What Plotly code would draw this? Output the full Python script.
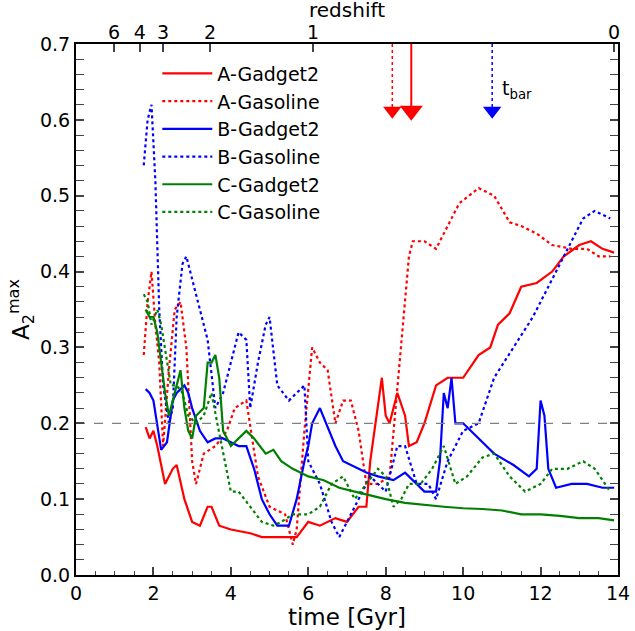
import plotly.graph_objects as go

# A-Gadget2
a_g2_t = [1.8, 1.9, 2.0, 2.1, 2.3, 2.5, 2.6, 2.8, 3.0, 3.2, 3.4, 3.5, 3.7, 4.0, 4.5, 4.8, 5.2, 5.5, 5.7, 6.0, 6.3, 6.7, 7.0, 7.3, 7.5, 7.6, 7.8, 7.9, 8.0, 8.1, 8.3, 8.5, 8.6, 8.8, 9.0, 9.3, 9.6, 10.0, 10.4, 10.7, 10.9, 11.2, 11.5, 11.9, 12.3, 12.6, 13.0, 13.3, 13.6, 13.9]
a_g2_v = [0.195, 0.18, 0.19, 0.17, 0.12, 0.14, 0.145, 0.10, 0.07, 0.065, 0.09, 0.09, 0.065, 0.06, 0.055, 0.05, 0.05, 0.05, 0.05, 0.07, 0.065, 0.075, 0.07, 0.09, 0.09, 0.15, 0.22, 0.26, 0.21, 0.20, 0.24, 0.21, 0.17, 0.175, 0.20, 0.25, 0.26, 0.26, 0.29, 0.30, 0.33, 0.345, 0.38, 0.385, 0.40, 0.42, 0.435, 0.44, 0.43, 0.425]
# A-Gasoline
a_gs_t = [1.75, 1.85, 1.95, 2.05, 2.15, 2.25, 2.4, 2.55, 2.7, 2.85, 3.0, 3.1, 3.3, 3.6, 3.9, 4.1, 4.4, 4.7, 5.0, 5.4, 5.6, 5.7, 5.9, 6.1, 6.3, 6.5, 6.7, 6.9, 7.1, 7.3, 7.5, 7.8, 8.1, 8.2, 8.4, 8.6, 8.7, 9.0, 9.3, 9.6, 9.9, 10.4, 10.8, 11.2, 11.5, 11.9, 12.3, 12.8, 13.2, 13.5, 13.8]
a_gs_v = [0.29, 0.36, 0.40, 0.33, 0.28, 0.17, 0.27, 0.35, 0.36, 0.30, 0.15, 0.12, 0.16, 0.17, 0.19, 0.22, 0.23, 0.13, 0.09, 0.08, 0.04, 0.06, 0.19, 0.30, 0.28, 0.27, 0.20, 0.23, 0.23, 0.19, 0.12, 0.12, 0.13, 0.19, 0.30, 0.42, 0.44, 0.44, 0.43, 0.46, 0.49, 0.51, 0.50, 0.465, 0.46, 0.45, 0.435, 0.43, 0.43, 0.42, 0.42]
# B-Gadget2
b_g2_t = [1.8, 1.9, 2.0, 2.2, 2.35, 2.5, 2.6, 2.8, 2.9, 3.0, 3.2, 3.4, 3.6, 3.8, 4.0, 4.2, 4.4, 4.6, 4.8, 5.0, 5.2, 5.5, 5.7, 5.9, 6.0, 6.1, 6.3, 6.5, 6.7, 6.9, 7.1, 7.5, 7.8, 8.2, 8.5, 8.8, 9.0, 9.3, 9.4, 9.5, 9.6, 9.7, 9.8, 10.0, 10.4, 10.8, 11.3, 11.7, 11.9, 12.0, 12.1, 12.2, 12.4, 12.8, 13.2, 13.6, 13.9]
b_g2_v = [0.245, 0.24, 0.23, 0.165, 0.175, 0.23, 0.24, 0.25, 0.24, 0.22, 0.19, 0.175, 0.18, 0.18, 0.175, 0.17, 0.17, 0.14, 0.10, 0.08, 0.065, 0.065, 0.10, 0.15, 0.17, 0.20, 0.22, 0.195, 0.17, 0.15, 0.145, 0.135, 0.13, 0.125, 0.135, 0.12, 0.11, 0.11, 0.15, 0.24, 0.22, 0.26, 0.20, 0.20, 0.18, 0.16, 0.145, 0.13, 0.14, 0.23, 0.21, 0.14, 0.115, 0.12, 0.12, 0.115, 0.115]
# B-Gasoline
b_gs_t = [1.75, 1.85, 1.95, 2.05, 2.15, 2.25, 2.4, 2.5, 2.6, 2.75, 2.85, 3.0, 3.2, 3.4, 3.6, 3.8, 4.0, 4.2, 4.4, 4.5, 4.7, 4.9, 5.0, 5.2, 5.5, 5.7, 5.9, 6.0, 6.3, 6.6, 6.8, 7.0, 7.3, 7.6, 8.0, 8.3, 8.5, 8.8, 9.1, 9.3, 9.6, 9.8, 10.0, 10.4, 10.8, 11.3, 11.8, 12.3, 12.7, 13.1, 13.4, 13.8]
b_gs_v = [0.54, 0.60, 0.62, 0.52, 0.35, 0.25, 0.20, 0.22, 0.34, 0.41, 0.42, 0.39, 0.35, 0.31, 0.22, 0.24, 0.28, 0.32, 0.31, 0.22, 0.28, 0.33, 0.34, 0.25, 0.23, 0.24, 0.25, 0.15, 0.12, 0.07, 0.05, 0.07, 0.10, 0.13, 0.11, 0.17, 0.17, 0.12, 0.12, 0.10, 0.15, 0.17, 0.19, 0.20, 0.26, 0.30, 0.34, 0.39, 0.43, 0.47, 0.48, 0.47]
# C-Gadget2
c_g2_t = [1.8, 1.9, 2.0, 2.1, 2.3, 2.4, 2.6, 2.7, 2.8, 2.9, 3.0, 3.1, 3.3, 3.4, 3.5, 3.6, 3.7, 3.8, 4.0, 4.2, 4.4, 4.6, 4.9, 5.1, 5.3, 5.6, 6.0, 6.4, 6.8, 7.2, 7.6, 8.0, 8.5, 9.0, 9.5, 10.0, 10.5, 11.0, 11.5, 12.0, 12.5, 13.0, 13.5, 13.9]
c_g2_v = [0.35, 0.34, 0.34, 0.32, 0.24, 0.21, 0.25, 0.27, 0.22, 0.19, 0.18, 0.21, 0.22, 0.28, 0.28, 0.29, 0.26, 0.19, 0.17, 0.18, 0.19, 0.18, 0.16, 0.165, 0.15, 0.14, 0.13, 0.125, 0.115, 0.11, 0.105, 0.10, 0.095, 0.092, 0.09, 0.088, 0.087, 0.085, 0.08, 0.08, 0.078, 0.075, 0.075, 0.072]
# C-Gasoline
c_gs_t = [1.75, 1.85, 1.95, 2.1, 2.2, 2.3, 2.45, 2.6, 2.75, 2.9, 3.1, 3.3, 3.5, 3.65, 3.8, 4.0, 4.2, 4.5, 4.8, 5.1, 5.3, 5.6, 6.0, 6.3, 6.6, 6.9, 7.2, 7.5, 7.8, 8.0, 8.2, 8.4, 8.6, 8.9, 9.2, 9.5, 9.8, 10.1, 10.5, 10.8, 11.2, 11.6, 12.0, 12.3, 12.7, 13.1, 13.4, 13.8]
c_gs_v = [0.37, 0.36, 0.33, 0.35, 0.33, 0.30, 0.25, 0.25, 0.24, 0.21, 0.20, 0.21, 0.24, 0.20, 0.16, 0.11, 0.11, 0.09, 0.07, 0.065, 0.07, 0.08, 0.08, 0.09, 0.12, 0.13, 0.10, 0.12, 0.14, 0.13, 0.09, 0.10, 0.12, 0.12, 0.14, 0.17, 0.12, 0.13, 0.155, 0.16, 0.13, 0.11, 0.12, 0.14, 0.14, 0.15, 0.14, 0.11]

# bar formation times (arrows)
t_bar = [8.17, 8.66, 10.75]
t_bar_colors = ["red", "red", "blue"]
t_bar_dash = ["dot", "solid", "dot"]

# top axis: redshift labels at cosmic time positions
z_labels = ["6", "4", "3", "2", "1", "0"]
z_times = [0.98, 1.65, 2.25, 3.46, 6.12, 13.9]

fig = go.Figure()

series = [
    ("A-Gadget2", a_g2_t, a_g2_v, "red", "solid"),
    ("A-Gasoline", a_gs_t, a_gs_v, "red", "dot"),
    ("B-Gadget2", b_g2_t, b_g2_v, "blue", "solid"),
    ("B-Gasoline", b_gs_t, b_gs_v, "blue", "dot"),
    ("C-Gadget2", c_g2_t, c_g2_v, "green", "solid"),
    ("C-Gasoline", c_gs_t, c_gs_v, "green", "dot"),
]
for name, t, v, c, d in series:
    fig.add_trace(go.Scatter(x=t, y=v, name=name, mode="lines",
                             line=dict(color=c, dash=d, width=2.2)))

# dashed reference line at 0.2
fig.add_trace(go.Scatter(x=[0, 14], y=[0.2, 0.2], mode="lines", showlegend=False,
                         line=dict(color="gray", dash="dash", width=1.2)))

for t, c, d in zip(t_bar, t_bar_colors, t_bar_dash):
    fig.add_trace(go.Scatter(x=[t, t], y=[0.7, 0.615], mode="lines", showlegend=False,
                             line=dict(color=c, dash=d, width=2 if d == "solid" else 1.5)))
    fig.add_trace(go.Scatter(x=[t], y=[0.612], mode="markers", showlegend=False,
                             marker=dict(symbol="triangle-down", color=c,
                                         size=20 if d == "solid" else 16)))

fig.add_trace(go.Scatter(x=z_times, y=[0.5] * len(z_times), xaxis="x2", mode="markers",
                         marker=dict(opacity=0), showlegend=False, hoverinfo="skip"))

fig.add_annotation(x=10.95, y=0.64, text="t<sub>bar</sub>", showarrow=False,
                   xanchor="left", font=dict(size=19))
# top axis title
fig.add_annotation(x=0.5, y=1.064, xref="paper", yref="paper", text="redshift",
                   showarrow=False, yanchor="middle",
                   font=dict(family="DejaVu Sans", size=20, color="black"))

minor = dict(ticks="inside", ticklen=4, tickwidth=1)

fig.update_layout(
    width=635, height=631,
    margin=dict(l=76, r=17, t=44, b=56, autoexpand=False),
    plot_bgcolor="white", paper_bgcolor="white",
    font=dict(family="DejaVu Sans", size=19, color="black"),
    xaxis=dict(range=[0, 14], dtick=2, title=dict(text="time [Gyr]", standoff=2),
               minor=dict(dtick=0.5, **minor), showline=True, linecolor="black",
               linewidth=2, mirror=True, ticks="inside", ticklen=8, tickwidth=1.5,
               showgrid=False, zeroline=False, automargin=False),
    xaxis2=dict(range=[0, 14], overlaying="x", side="top", tickmode="array",
                tickvals=z_times, ticktext=z_labels, ticks="inside", ticklen=8,
                tickwidth=1.5, showgrid=False, zeroline=False, automargin=False),
    yaxis=dict(range=[0, 0.7], dtick=0.1, tickformat=".1f",
               minor=dict(dtick=0.02, **minor), showline=True, linecolor="black",
               linewidth=2, mirror="allticks", ticks="inside", ticklen=8, tickwidth=1.5,
               showgrid=False, zeroline=False, automargin=False,
               title=dict(text="A<sub>2</sub><sup>max</sup>", standoff=4)),
    legend=dict(x=0.15, y=0.98, xanchor="left", yanchor="top", bgcolor="rgba(0,0,0,0)",
                font=dict(size=19), tracegroupgap=7, itemwidth=50),
)

fig.write_html("out.html", config={"displayModeBar": False},
               post_script="document.body.style.margin='0';")
